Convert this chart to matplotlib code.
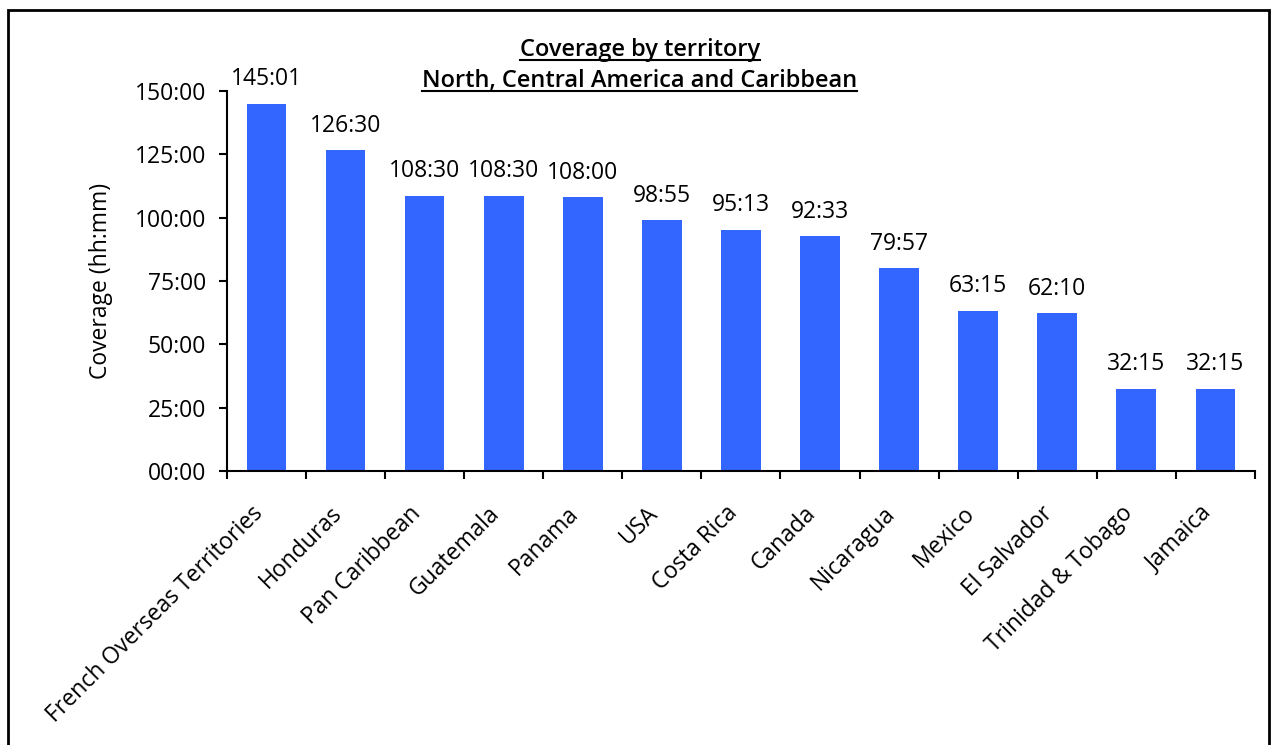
import matplotlib.pyplot as plt
from matplotlib.patches import Rectangle
from matplotlib.ticker import FuncFormatter

plt.rcParams['font.family'] = ['Open Sans', 'DejaVu Sans']

territories = ['French Overseas Territories', 'Honduras', 'Pan Caribbean', 'Guatemala',
               'Panama', 'USA', 'Costa Rica', 'Canada', 'Nicaragua', 'Mexico',
               'El Salvador', 'Trinidad & Tobago', 'Jamaica']
coverage = ['145:01', '126:30', '108:30', '108:30', '108:00', '98:55', '95:13',
            '92:33', '79:57', '63:15', '62:10', '32:15', '32:15']


def to_hours(s):
    h, m = s.split(':')
    return int(h) + int(m) / 60


def hhmm(v, pos=None):
    h = int(v)
    m = int(round((v - h) * 60))
    return f'{h:02d}:{m:02d}'


hours = [to_hours(s) for s in coverage]
x = list(range(len(territories)))
fs = 16.5

fig = plt.figure(figsize=(12.72, 7.45), dpi=100)
ax = fig.add_axes([0.1785, 0.368, 0.808, 0.51])

ax.bar(x, hours, width=0.5, color='#3366FF')
for xi, v, s in zip(x, hours, coverage):
    ax.text(xi, v + 5, s, ha='center', va='bottom', fontsize=fs)

ax.set_xlim(-0.5, len(territories) - 0.5)
ax.set_ylim(0, 150)
ax.set_yticks(range(0, 151, 25))
ax.yaxis.set_major_formatter(FuncFormatter(hhmm))
ax.set_xticks([i - 0.5 for i in range(len(territories) + 1)])
ax.set_xticklabels([])
# category labels sit slightly left of the bar centre, like the original
ax.set_xticks([i - 0.2 for i in x], minor=True)
ax.set_xticklabels(territories, minor=True, rotation=45, ha='right',
                   rotation_mode='anchor', fontsize=fs)
ax.tick_params(axis='x', which='minor', length=0, pad=22)
ax.tick_params(axis='x', which='major', length=6, width=1.5)
ax.tick_params(axis='y', length=6, width=1.5, labelsize=fs, pad=9)
ax.spines['top'].set_visible(False)
ax.spines['right'].set_visible(False)
ax.spines['left'].set_linewidth(1.5)
ax.spines['bottom'].set_linewidth(1.5)
ax.set_ylabel('Coverage (hh:mm)', fontsize=fs, labelpad=16)

# underlined two-line title
t1 = fig.text(0.503, 1 - 56 / 745, 'Coverage by territory', ha='center', va='baseline',
              fontsize=17, fontweight='semibold')
t2 = fig.text(0.503, 1 - 87 / 745, 'North, Central America and Caribbean', ha='center',
              va='baseline', fontsize=17, fontweight='semibold')
fig.canvas.draw()
r = fig.canvas.get_renderer()
for t in (t1, t2):
    bb = t.get_window_extent(r).transformed(fig.transFigure.inverted())
    y = t.get_position()[1] - 4 / 745
    fig.add_artist(plt.Line2D([bb.x0, bb.x1], [y, y], color='black', lw=1.5,
                              transform=fig.transFigure))

# figure border
fig.add_artist(Rectangle((0.0063, -0.02), 0.9913, 1.0066, fill=False, edgecolor='black',
                         lw=2, transform=fig.transFigure, clip_on=False))

fig.savefig('out.png', dpi=100)
